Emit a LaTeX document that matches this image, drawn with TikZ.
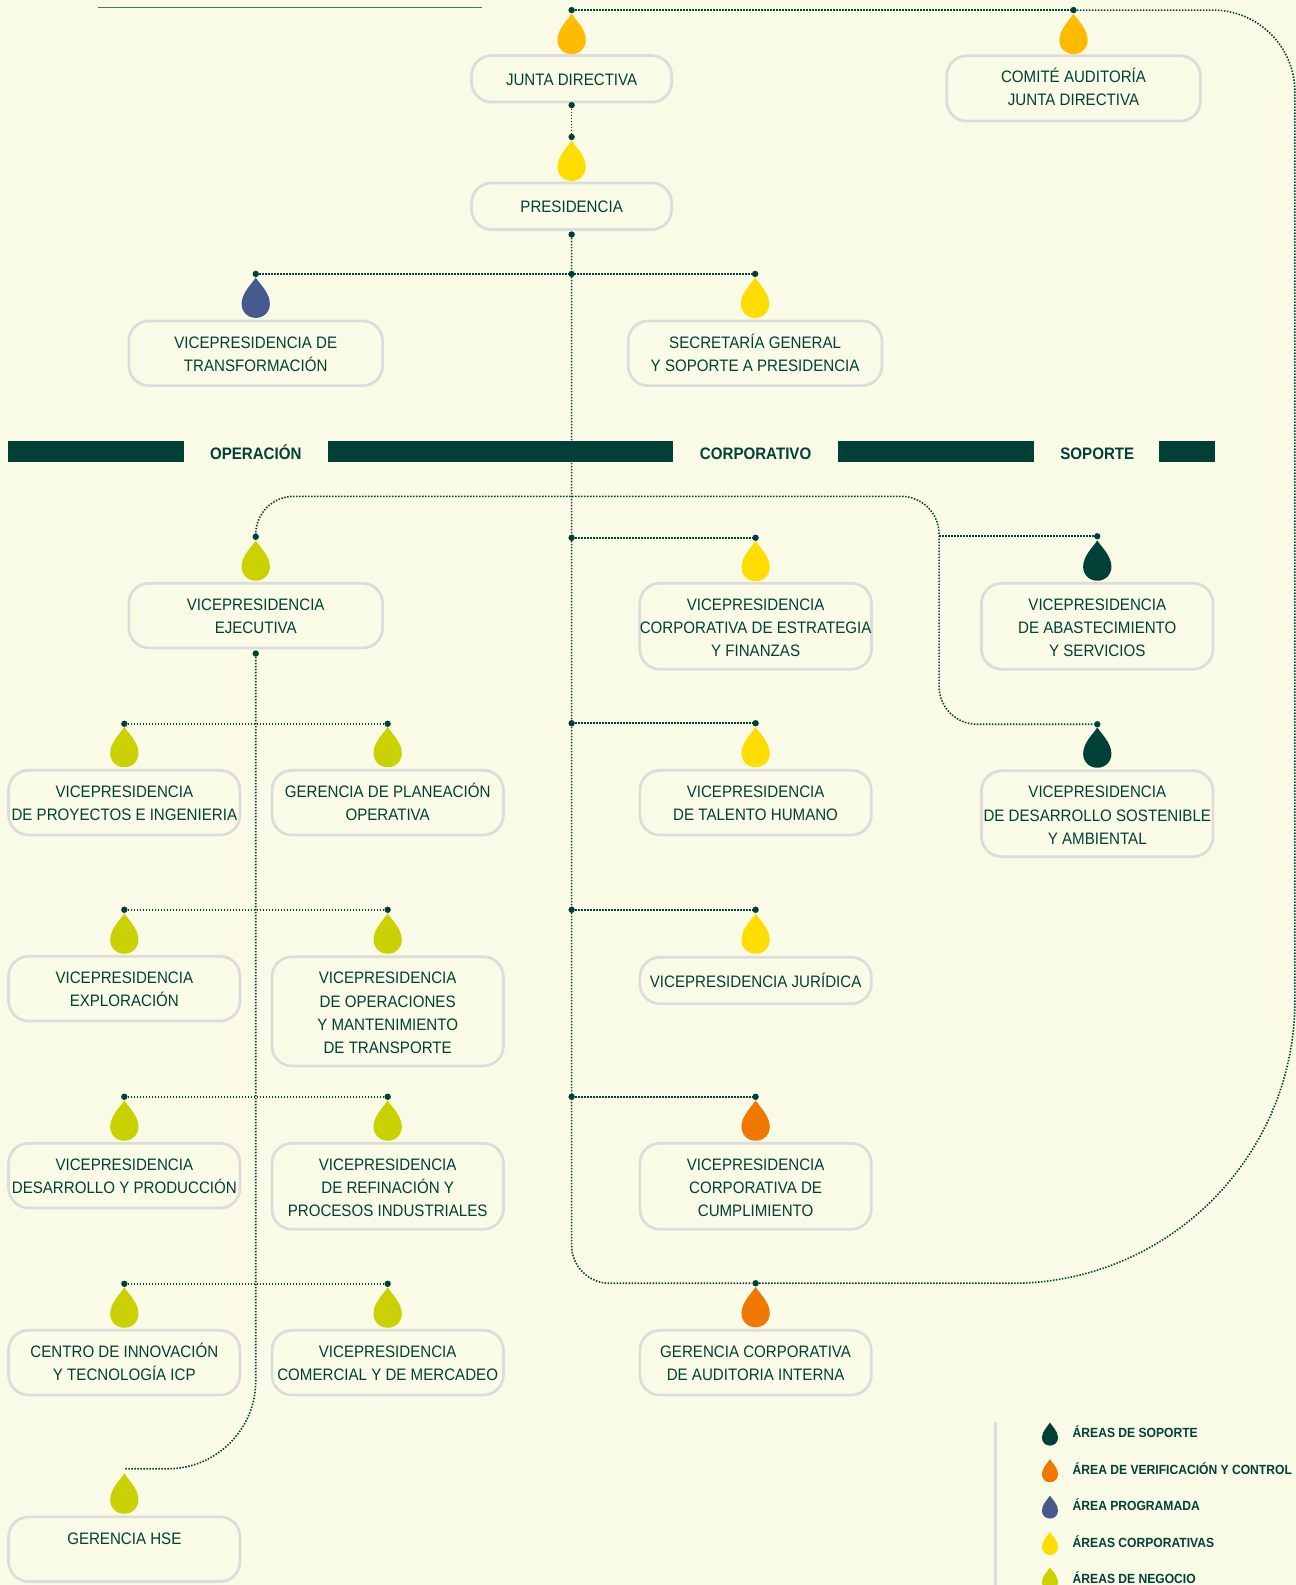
\documentclass[tikz,border=0pt]{standalone}
\usepackage{fontspec}
\setmainfont{Liberation Sans}[FakeStretch=0.91]
\definecolor{bgc}{HTML}{F9FBE7}
\definecolor{ink}{HTML}{004037}
\definecolor{edge}{HTML}{DCDCDC}
\definecolor{ambr}{HTML}{FFBB00}
\definecolor{yelw}{HTML}{FFDD00}
\definecolor{blu}{HTML}{46598C}
\definecolor{lime}{HTML}{C9D200}
\definecolor{orng}{HTML}{F07800}
\tikzset{
  orgbox/.style={draw=edge,line width=2.7pt,rounded corners=20pt,inner sep=0pt,align=center,text=ink,
    font=\fontsize{16.6}{23.25}\selectfont},
  linkdot/.style={circle,fill=ink,inner sep=0pt,minimum size=6.4pt},
  conn/.style={draw=ink,line width=1.6pt,dash pattern=on 1.5pt off 1.5pt},
  barlabel/.style={text=ink,font=\fontsize{16.6}{18}\selectfont\bfseries,inner sep=0pt,text height=12pt,text depth=0pt},
  legendtext/.style={text=ink,font=\fontsize{13.3}{16}\selectfont\bfseries,anchor=west,inner sep=0pt,text height=10pt,text depth=0pt},
  bandbar/.style={fill=ink},
  pics/drop/.style={code={\fill[#1] (0,0) .. controls (3,5.5) and (14,15) .. (14,26)
     .. controls (14,34) and (8,40) .. (0,40) .. controls (-8,40) and (-14,34) .. (-14,26)
     .. controls (-14,15) and (-3,5.5) .. (0,0) -- cycle;}}
}
% optional argument: offset that places the lines of text in the box
\newcommand{\bx}[7][13]{\pgfmathsetmacro{\tupper}{3+#1}%
  \node[orgbox,minimum width=1.0109*#5pt,minimum height=1.0109*#6pt] (#2) at (#3,#4)
   {\rule{0pt}{\tupper pt}#7\rule[-3pt]{0pt}{3pt}};}
\newcommand{\dt}[3]{\node[linkdot] (#1) at (#2,#3) {};}
\begin{document}
\begin{tikzpicture}[x=1.0109pt,y=-1.0109pt]
\useasboundingbox (0,0) rectangle (1282,1568);
\clip (0,0) rectangle (1282,1568);
\fill[bgc] (0,0) rectangle (1282,1568);

% band
\fill[bandbar] (8,436.3) rectangle (182,457);
\fill[bandbar] (324.5,436.3) rectangle (665.7,457);
\fill[bandbar] (829,436.3) rectangle (1023,457);
\fill[bandbar] (1147,436.3) rectangle (1202,457);
\node[barlabel] (lop) at (253,449) {OPERACIÓN};
\node[barlabel] (lco) at (747.5,449) {CORPORATIVO};
\node[barlabel] (lso) at (1085.5,449) {SOPORTE};

% thin rule
\draw[color=ink!70!bgc,line width=1pt] (97,7.4) -- (477,7.4);

% boxes
\bx{junta}{565.5}{78}{198}{46}{JUNTA DIRECTIVA}
\bx[11.5]{comite}{1062}{87.5}{251}{64.5}{COMITÉ AUDITORÍA\\JUNTA DIRECTIVA}
\bx{pres}{565.5}{204}{198}{46}{PRESIDENCIA}
\bx{vtrans}{253}{349.5}{251}{64}{VICEPRESIDENCIA DE\\TRANSFORMACIÓN}
\bx{secre}{747}{349.5}{251}{64}{SECRETARÍA GENERAL\\Y SOPORTE A PRESIDENCIA}
\bx{vejec}{253}{609}{251}{64}{VICEPRESIDENCIA\\EJECUTIVA}
\bx[15]{vcorp}{747.5}{619.5}{229}{85}{VICEPRESIDENCIA\\CORPORATIVA DE ESTRATEGIA\\Y FINANZAS}
\bx[15]{vabas}{1085.5}{619.5}{229}{85}{VICEPRESIDENCIA\\DE ABASTECIMIENTO\\Y SERVICIOS}
\bx{vproy}{123}{794}{229}{64}{VICEPRESIDENCIA\\DE PROYECTOS E INGENIERIA}
\bx{gplan}{383.5}{794}{229}{64}{GERENCIA DE PLANEACIÓN\\OPERATIVA}
\bx{vtal}{747.5}{794}{229}{64}{VICEPRESIDENCIA\\DE TALENTO HUMANO}
\bx[15]{vsost}{1085.5}{805}{229}{85}{VICEPRESIDENCIA\\DE DESARROLLO SOSTENIBLE\\Y AMBIENTAL}
\bx{vexpl}{123}{978}{229}{64}{VICEPRESIDENCIA\\EXPLORACIÓN}
\bx[15]{voper}{383.5}{1000.5}{229}{108}{VICEPRESIDENCIA\\DE OPERACIONES\\Y MANTENIMIENTO\\DE TRANSPORTE}
\bx{vjur}{747.5}{970}{229}{46}{VICEPRESIDENCIA JURÍDICA}
\bx{vdes}{123}{1163}{229}{64}{VICEPRESIDENCIA\\DESARROLLO Y PRODUCCIÓN}
\bx[15]{vref}{383.5}{1173.5}{229}{85}{VICEPRESIDENCIA\\DE REFINACIÓN Y\\PROCESOS INDUSTRIALES}
\bx[15]{vcum}{747.5}{1173.5}{229}{85}{VICEPRESIDENCIA\\CORPORATIVA DE\\CUMPLIMIENTO}
\bx{cicp}{123}{1348}{229}{64}{CENTRO DE INNOVACIÓN\\Y TECNOLOGÍA ICP}
\bx{vcom}{383.5}{1348}{229}{64}{VICEPRESIDENCIA\\COMERCIAL Y DE MERCADEO}
\bx{gaud}{747.5}{1348}{229}{64}{GERENCIA CORPORATIVA\\DE AUDITORIA INTERNA}
\bx{ghse}{123}{1532.6}{229}{64}{GERENCIA HSE\\\mbox{}}

% dots
\dt{dJ}{565.5}{10} \dt{dC}{1062}{10}
\dt{dJb}{565.5}{104} \dt{dP}{565.5}{135.5}
\dt{dPb}{565.5}{232} \dt{dH}{565.5}{271}
\dt{dT}{253}{271} \dt{dS}{747}{271}
\dt{dEj}{253}{531} \dt{dEjb}{253}{646.5}
\dt{dM1}{565.5}{532} \dt{dVc}{747.5}{532}
\dt{dAb}{1085.5}{530.5}
\dt{dM2}{565.5}{715.5} \dt{dVt}{747.5}{715.5}
\dt{dDs}{1085.5}{716.5}
\dt{dM3}{565.5}{900} \dt{dVj}{747.5}{900}
\dt{dM4}{565.5}{1085} \dt{dVv}{747.5}{1085}
\dt{dA}{747.5}{1269.5}
\dt{dL1}{123}{716} \dt{dR1}{383.5}{716}
\dt{dL2}{123}{900} \dt{dR2}{383.5}{900}
\dt{dL3}{123}{1085} \dt{dR3}{383.5}{1085}
\dt{dL4}{123}{1270} \dt{dR4}{383.5}{1270}

% named bends and free ends
\coordinate (cTR) at (1281,10);
\coordinate (cBR) at (1281,1269.5);
\coordinate (cTop) at (929,491);
\coordinate (cLow) at (929,716.5);
\coordinate (cBranch) at (929,530.5);
\coordinate (cHse) at (123,1453);
\coordinate (cMain) at (565.5,1269.5);

% connectors
\draw[conn] (dJ) -- (dC);
\draw[conn,rounded corners=82pt] (dC) -- (cTR) [rounded corners=283pt] -- (cBR) -- (dA);
\draw[conn] (dJb) -- (dP);
\draw[conn,rounded corners=38pt] (dPb) -- (cMain) -- (dA);
\draw[conn] (dT) -- (dS);
\draw[conn,rounded corners=38pt] (dEj) |- (cTop) -- (cLow) -- (dDs);
\draw[conn] (cBranch) -- (dAb);
\draw[conn] (dM1) -- (dVc);
\draw[conn] (dM2) -- (dVt);
\draw[conn] (dM3) -- (dVj);
\draw[conn] (dM4) -- (dVv);
\draw[conn] (dL1) -- (dR1);
\draw[conn] (dL2) -- (dR2);
\draw[conn] (dL3) -- (dR3);
\draw[conn] (dL4) -- (dR4);
\draw[conn,rounded corners=88pt] (dEjb) |- (cHse);

% drops
\pic at (565.5,13.5) {drop=ambr};
\pic at (1062,13.5) {drop=ambr};
\pic at (565.5,139) {drop=yelw};
\pic at (253,274.5) {drop=blu};
\pic at (747,274.5) {drop=yelw};
\pic at (253,534.5) {drop=lime};
\pic at (747.5,535) {drop=yelw};
\pic at (1085.5,534.5) {drop=ink};
\pic at (123,719) {drop=lime};
\pic at (383.5,719) {drop=lime};
\pic at (747.5,719) {drop=yelw};
\pic at (1085.5,719.5) {drop=ink};
\pic at (123,903.5) {drop=lime};
\pic at (383.5,903.5) {drop=lime};
\pic at (747.5,903.5) {drop=yelw};
\pic at (123,1088.5) {drop=lime};
\pic at (383.5,1088.5) {drop=lime};
\pic at (747.5,1088.5) {drop=orng};
\pic at (123,1273.5) {drop=lime};
\pic at (383.5,1273.5) {drop=lime};
\pic at (747.5,1273) {drop=orng};
\pic at (123,1457.5) {drop=lime};

% legend
\draw[color=edge,line width=2.5pt] (985,1407) -- (985,1568);
\pic[scale=.57] at (1038.7,1407.3) {drop=ink};
\pic[scale=.57] at (1038.7,1443.5) {drop=orng};
\pic[scale=.57] at (1038.7,1479.5) {drop=blu};
\pic[scale=.57] at (1038.7,1515.5) {drop=yelw};
\pic[scale=.57] at (1038.7,1550.5) {drop=lime};
\node[legendtext] (l1) at (1061,1417.5) {ÁREAS DE SOPORTE};
\node[legendtext] (l2) at (1061,1453.7) {ÁREA DE VERIFICACIÓN Y CONTROL};
\node[legendtext] (l3) at (1061,1489.8) {ÁREA PROGRAMADA};
\node[legendtext] (l4) at (1061,1526) {ÁREAS CORPORATIVAS};
\node[legendtext] (l5) at (1061,1562) {ÁREAS DE NEGOCIO};
\end{tikzpicture}
\end{document}
